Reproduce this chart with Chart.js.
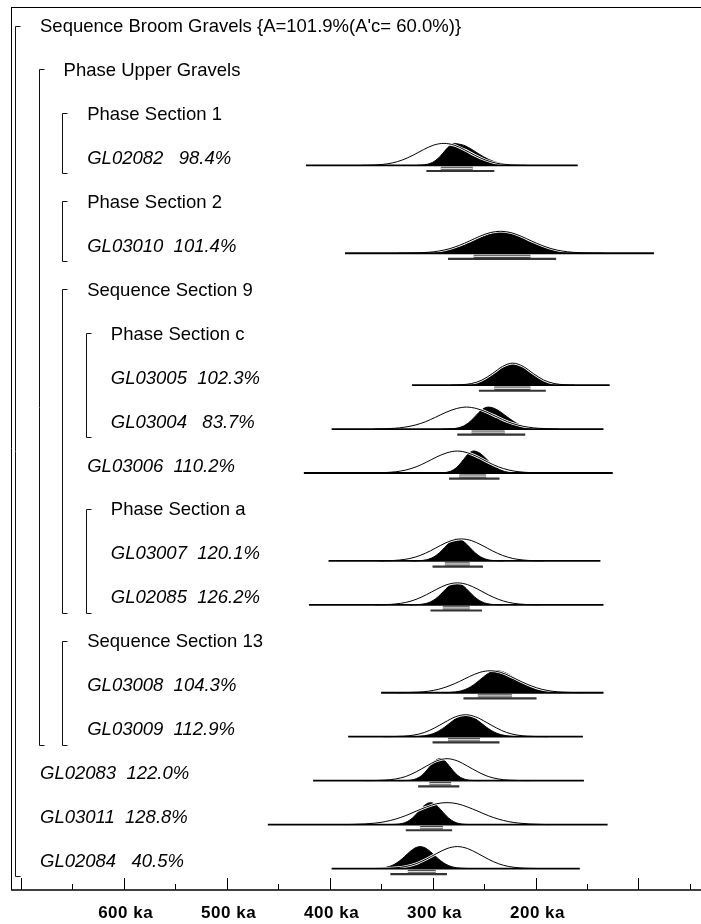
<!DOCTYPE html>
<html>
<head>
<meta charset="utf-8">
<title>Sequence Broom Gravels</title>
<script src="https://cdn.jsdelivr.net/npm/chart.js@4.4.1/dist/chart.umd.min.js"></script>
<style>
  html, body { margin: 0; padding: 0; background: #fff; }
  #wrap { width: 701px; height: 924px; position: relative; }
  canvas { display: block; }
</style>
</head>
<body>
<div id="wrap"><canvas id="plot" width="701" height="924"></canvas></div>
<script>
// ---- Model structure -------------------------------------------------------
const groupNames = [
  "Sequence Broom Gravels {A=101.9%(A'c= 60.0%)}",
  'Phase Upper Gravels',
  'Phase Section 1',
  'Phase Section 2',
  'Sequence Section 9',
  'Phase Section c',
  'Phase Section a',
  'Sequence Section 13'
];
const groupFirstRow = [0, 1, 2, 4, 6, 7, 11, 14];
const groupLastRow  = [19, 16, 3, 5, 13, 9, 13, 16];
const groupDepth    = [0, 1, 2, 2, 2, 3, 3, 2];

// ---- Samples (OSL dates, ka) ----------------------------------------------
const sampleNames = ['GL02082', 'GL03010', 'GL03005', 'GL03004', 'GL03006', 'GL03007',
                     'GL02085', 'GL03008', 'GL03009', 'GL02083', 'GL03011', 'GL02084'];
const sampleRow   = [3, 5, 8, 9, 10, 12, 13, 15, 16, 17, 18, 19];
const sampleDepth = [2, 2, 3, 3, 2, 3, 3, 2, 2, 0, 0, 0];
const agreement   = [98.4, 101.4, 102.3, 83.7, 110.2, 120.1, 126.2, 104.3, 112.9, 122.0, 128.8, 40.5];

// extent over which each distribution was computed [older, younger]
const calcRange = [[423, 159], [385, 85], [320, 128], [398, 134], [425, 125], [401, 137],
                   [420, 134], [350, 134], [382, 154], [416, 153], [460, 130], [398, 157]];
// highest posterior density ranges [older, younger]
const range68 = [[292, 261], [260, 205], [240, 205], [262, 230], [274, 248], [288, 264],
                 [290, 264], [256, 223], [285, 254], [303, 282], [312, 290], [324, 297]];
const range95 = [[306, 240], [285, 180], [255, 190], [276, 210], [284, 235], [300, 251],
                 [302, 252], [270, 199], [300, 235], [314, 274], [326, 281], [341, 286]];

// likelihoods (outline), [ka, relative probability]
const prior_GL02082 = [[369,0],[359,0.01],[349,0.04],[339,0.11],[329,0.25],[319,0.46],[309,0.71],[299,0.92],[289,1],[279,0.92],[269,0.71],[259,0.46],[249,0.25],[239,0.11],[229,0.04],[219,0.01],[209,0]];
const prior_GL03010 = [[334,0],[324,0.006],[314,0.017],[304,0.044],[294,0.10],[284,0.20],[274,0.36],[264,0.56],[254,0.775],[244,0.94],[234,1],[224,0.94],[214,0.775],[204,0.56],[194,0.36],[184,0.20],[174,0.10],[164,0.044],[154,0.017],[144,0.006],[134,0]];
const prior_GL03005 = [[282,0],[272,0.017],[262,0.073],[252,0.23],[242,0.52],[232,0.85],[222,1],[212,0.85],[202,0.52],[192,0.23],[182,0.073],[172,0.017],[162,0]];
const prior_GL03004 = [[357,0],[347,0.01],[337,0.035],[327,0.085],[317,0.18],[307,0.33],[297,0.54],[287,0.76],[277,0.93],[267,1],[257,0.93],[247,0.76],[237,0.54],[227,0.33],[217,0.18],[207,0.085],[197,0.035],[187,0.01],[177,0]];
const prior_GL03006 = [[356,0],[346,0.02],[336,0.056],[326,0.135],[316,0.28],[306,0.49],[296,0.73],[286,0.92],[276,1],[266,0.92],[256,0.73],[246,0.49],[236,0.28],[226,0.135],[216,0.056],[206,0.02],[196,0]];
const prior_GL03007 = [[352,0],[342,0.01],[332,0.04],[322,0.11],[312,0.25],[302,0.46],[292,0.71],[282,0.92],[272,1],[262,0.92],[252,0.71],[242,0.46],[232,0.25],[222,0.11],[212,0.04],[202,0.01],[192,0]];
const prior_GL02085 = [[356,0],[346,0.01],[336,0.04],[326,0.11],[316,0.25],[306,0.46],[296,0.71],[286,0.92],[276,1],[266,0.92],[256,0.71],[246,0.46],[236,0.25],[226,0.11],[216,0.04],[206,0.01],[196,0]];
const prior_GL03008 = [[334,0],[324,0.01],[314,0.027],[304,0.07],[294,0.16],[284,0.31],[274,0.51],[264,0.74],[254,0.93],[244,1],[234,0.93],[224,0.74],[214,0.51],[204,0.31],[194,0.16],[184,0.07],[174,0.027],[164,0.01],[154,0]];
const prior_GL03009 = [[348,0],[338,0.006],[328,0.024],[318,0.076],[308,0.19],[298,0.40],[288,0.66],[278,0.90],[268,1],[258,0.90],[248,0.66],[238,0.40],[228,0.19],[218,0.076],[208,0.024],[198,0.006],[188,0]];
const prior_GL02083 = [[366,0],[356,0.006],[346,0.024],[336,0.076],[326,0.19],[316,0.40],[306,0.66],[296,0.90],[286,1],[276,0.90],[266,0.66],[256,0.40],[246,0.19],[236,0.076],[226,0.024],[216,0.006],[206,0]];
const prior_GL03011 = [[386,0],[376,0.011],[366,0.03],[356,0.066],[346,0.135],[336,0.25],[326,0.41],[316,0.61],[306,0.80],[296,0.95],[286,1],[276,0.95],[266,0.80],[256,0.61],[246,0.41],[236,0.25],[226,0.135],[216,0.066],[206,0.03],[196,0.011],[186,0]];
const prior_GL02084 = [[356,0],[346,0.01],[336,0.033],[326,0.094],[316,0.22],[306,0.43],[296,0.685],[286,0.91],[276,1],[266,0.91],[256,0.685],[246,0.43],[236,0.22],[226,0.094],[216,0.033],[206,0.01],[196,0]];

// modelled posteriors (filled), [ka, relative probability]
const post_GL02082 = [[315,0],[310,0.015],[305,0.05],[300,0.135],[295,0.3],[290,0.55],[285,0.82],[280,0.98],[278,1],[275,0.97],[270,0.92],[265,0.81],[260,0.67],[255,0.52],[250,0.375],[245,0.26],[240,0.165],[235,0.1],[230,0.056],[225,0.03],[220,0.015],[215,0]];
const post_GL03010 = [[323,0],[313,0.01],[303,0.029],[293,0.073],[283,0.16],[273,0.30],[263,0.50],[253,0.71],[243,0.88],[233,0.95],[223,0.88],[213,0.71],[203,0.50],[193,0.30],[183,0.16],[173,0.073],[163,0.029],[153,0.01],[143,0]];
const post_GL03005 = [[282,0],[277,0.005],[272,0.013],[267,0.03],[262,0.063],[257,0.12],[252,0.21],[247,0.34],[242,0.50],[237,0.68],[232,0.84],[227,0.96],[222,1],[217,0.96],[212,0.84],[207,0.68],[202,0.50],[197,0.34],[192,0.21],[187,0.12],[182,0.063],[177,0.03],[172,0.013],[167,0.005],[162,0]];
const post_GL03004 = [[290,0],[285,0.005],[280,0.018],[275,0.054],[270,0.135],[265,0.286],[260,0.506],[255,0.755],[250,0.946],[246,1],[240,0.94],[235,0.81],[230,0.642],[225,0.466],[220,0.31],[215,0.19],[210,0.106],[205,0.055],[200,0.026],[195,0.011],[190,0.004],[185,0]];
const post_GL03006 = [[295,0],[290,0.011],[285,0.044],[280,0.135],[275,0.325],[270,0.607],[265,0.882],[260,1],[255,0.929],[250,0.744],[245,0.514],[240,0.306],[235,0.157],[230,0.07],[225,0.027],[220,0.009],[215,0]];
const post_GL03007 = [[321,0],[316,0.005],[311,0.017],[306,0.051],[301,0.127],[296,0.267],[291,0.476],[286,0.719],[281,0.921],[276,1],[271,0.921],[266,0.719],[261,0.476],[256,0.267],[251,0.127],[246,0.051],[241,0.017],[236,0.005],[231,0]];
const post_GL02085 = [[322,0],[317,0.006],[312,0.019],[307,0.056],[302,0.135],[297,0.278],[292,0.487],[287,0.726],[282,0.923],[277,1],[272,0.923],[267,0.726],[262,0.487],[257,0.278],[252,0.135],[247,0.056],[242,0.019],[237,0.006],[232,0]];
const post_GL03008 = [[288,0],[283,0.015],[278,0.036],[273,0.078],[268,0.154],[263,0.272],[258,0.435],[253,0.626],[248,0.812],[243,0.949],[238,1],[233,0.969],[228,0.882],[223,0.755],[218,0.607],[213,0.458],[208,0.325],[203,0.216],[198,0.135],[193,0.079],[188,0.044],[183,0.023],[178,0.011],[173,0]];
const post_GL03009 = [[318,0],[313,0.018],[308,0.043],[303,0.088],[298,0.167],[293,0.286],[288,0.444],[283,0.625],[278,0.80],[273,0.92],[268,0.97],[263,0.92],[258,0.80],[253,0.625],[248,0.444],[243,0.286],[238,0.167],[233,0.088],[228,0.043],[223,0.018],[218,0]];
const post_GL02083 = [[333,0],[328,0.003],[323,0.014],[318,0.053],[313,0.152],[308,0.346],[303,0.624],[298,0.889],[293,1],[288,0.889],[283,0.624],[278,0.346],[273,0.152],[268,0.053],[263,0.014],[258,0.003],[253,0]];
const post_GL03011 = [[342,0],[337,0.008],[332,0.03],[327,0.087],[322,0.209],[317,0.414],[312,0.676],[307,0.907],[302,1],[297,0.907],[292,0.676],[287,0.414],[282,0.209],[277,0.087],[272,0.03],[267,0.008],[262,0]];
const post_GL02084 = [[357,0],[352,0.015],[347,0.04],[342,0.094],[337,0.194],[332,0.35],[327,0.554],[322,0.769],[317,0.936],[312,1],[307,0.936],[302,0.769],[297,0.554],[292,0.35],[287,0.194],[282,0.094],[277,0.04],[272,0.015],[267,0.005],[262,0]];

const priorCurves = [prior_GL02082, prior_GL03010, prior_GL03005, prior_GL03004, prior_GL03006, prior_GL03007,
                     prior_GL02085, prior_GL03008, prior_GL03009, prior_GL02083, prior_GL03011, prior_GL02084];
const postCurves  = [post_GL02082, post_GL03010, post_GL03005, post_GL03004, post_GL03006, post_GL03007,
                     post_GL02085, post_GL03008, post_GL03009, post_GL02083, post_GL03011, post_GL02084];

// ---- Axis ------------------------------------------------------------------
const axisMajorKa = [700, 600, 500, 400, 300, 200, 100];
const axisMinorKa = [650, 550, 450, 350, 250, 150, 50];
const axisLabelKa = [600, 500, 400, 300, 200];

// ---- Drawing ---------------------------------------------------------------
const ROW_COUNT = 20;
const BASE_OFF = 0.182;   // distribution baseline sits a little below the row centre (row units)
const PEAK = 0.5;         // height of a normalised distribution (row units)
const BAR68_OFF = 0.07;   // 68.2% range bar below the baseline
const BAR95_OFF = 0.128;  // 95.4% range bar below the baseline

const TEXT_FONT = '"Liberation Sans", Arial, Helvetica, sans-serif';

function toPoints(curve, row) {
  return curve.map(([ka, p]) => ({ x: ka, y: row + BASE_OFF - PEAK * p }));
}
function hLine(span, yv) {
  return [{ x: span[0], y: yv }, { x: span[1], y: yv }];
}

const datasets = [];
sampleNames.forEach((name, i) => {
  const row = sampleRow[i];
  const base = row + BASE_OFF;
  const common = { pointRadius: 0, pointHoverRadius: 0, fill: false, spanGaps: true };
  datasets.push({ ...common, label: name + ' posterior', data: toPoints(postCurves[i], row),
    borderColor: '#000', backgroundColor: '#000', borderWidth: 1, fill: { value: base },
    cubicInterpolationMode: 'monotone', order: 7 });
  datasets.push({ ...common, label: name + ' likelihood halo', data: toPoints(priorCurves[i], row),
    borderColor: '#fff', borderWidth: 2.6, cubicInterpolationMode: 'monotone', order: 6 });
  datasets.push({ ...common, label: name + ' range', data: hLine(calcRange[i], base),
    borderColor: '#000', borderWidth: 1.8, order: 5 });
  datasets.push({ ...common, label: name + ' likelihood', data: toPoints(priorCurves[i], row),
    borderColor: '#000', borderWidth: 1, cubicInterpolationMode: 'monotone', order: 4 });
  datasets.push({ ...common, label: name + ' 95.4%', data: hLine(range95[i], base + BAR95_OFF),
    borderColor: '#333', borderWidth: 2.2, borderCapStyle: 'butt', order: 3 });
  datasets.push({ ...common, label: name + ' 68.2% edge', data: hLine(range68[i], base + BAR68_OFF),
    borderColor: '#444', borderWidth: 3.4, borderCapStyle: 'butt', order: 2 });
  datasets.push({ ...common, label: name + ' 68.2%', data: hLine(range68[i], base + BAR68_OFF),
    borderColor: '#dcdcdc', borderWidth: 1.4, borderCapStyle: 'butt', order: 1 });
});

const modelTree = {
  id: 'modelTree',
  afterDatasetsDraw(chart) {
    const { ctx, chartArea: a, scales: { x, y } } = chart;
    ctx.save();
    ctx.strokeStyle = '#000';
    ctx.fillStyle = '#000';

    // frame
    ctx.lineWidth = 1;
    ctx.beginPath();
    ctx.moveTo(a.left, a.top + 0.5); ctx.lineTo(a.right, a.top + 0.5);
    ctx.moveTo(a.left + 0.5, a.top); ctx.lineTo(a.left + 0.5, a.bottom);
    ctx.stroke();

    // time axis
    ctx.lineWidth = 1.5;
    ctx.beginPath();
    ctx.moveTo(a.left, a.bottom); ctx.lineTo(a.right, a.bottom);
    ctx.stroke();
    ctx.lineWidth = 1;
    ctx.beginPath();
    axisMajorKa.forEach(ka => {
      const px = Math.round(x.getPixelForValue(ka)) + 0.5;
      ctx.moveTo(px, a.bottom); ctx.lineTo(px, a.bottom - 12);
    });
    axisMinorKa.forEach(ka => {
      const px = Math.round(x.getPixelForValue(ka)) + 0.5;
      ctx.moveTo(px, a.bottom); ctx.lineTo(px, a.bottom - 6);
    });
    ctx.stroke();

    ctx.font = 'bold 17px ' + TEXT_FONT;
    if ('letterSpacing' in ctx) ctx.letterSpacing = '0.5px';
    ctx.textAlign = 'center';
    ctx.textBaseline = 'alphabetic';
    axisLabelKa.forEach(ka => {
      ctx.fillText(ka + ' ka', x.getPixelForValue(ka) + 2, a.bottom + 28);
    });
    if ('letterSpacing' in ctx) ctx.letterSpacing = '0px';

    // brackets for sequences and phases
    const bracketX = d => Math.round(a.left + 4 + 23.7 * d) + 0.5;
    ctx.lineWidth = 1;
    ctx.strokeStyle = '#111';
    groupNames.forEach((g, k) => {
      const bx = bracketX(groupDepth[k]);
      const top = Math.round(y.getPixelForValue(groupFirstRow[k])) + 0.5;
      const bottom = Math.round(y.getPixelForValue(groupLastRow[k]) + (groupDepth[k] === 0 ? 15 : 16)) + 0.5;
      ctx.beginPath();
      ctx.moveTo(bx + 5, top); ctx.lineTo(bx, top);
      ctx.lineTo(bx, bottom); ctx.lineTo(bx + 5, bottom);
      ctx.stroke();
    });

    // row labels
    const textX = d => a.left + 29 + 23.6 * d;
    ctx.textAlign = 'left';
    ctx.font = '18.5px ' + TEXT_FONT;
    groupNames.forEach((g, k) => {
      ctx.fillText(g, textX(groupDepth[k]), y.getPixelForValue(groupFirstRow[k]) + 6.5);
    });
    ctx.font = 'italic 18.5px ' + TEXT_FONT;
    sampleNames.forEach((name, i) => {
      const txt = name + '  ' + agreement[i].toFixed(1).padStart(5, ' ') + '%';
      ctx.fillText(txt, textX(sampleDepth[i]), y.getPixelForValue(sampleRow[i]) + 6.5);
    });

    ctx.restore();
  }
};

new Chart(document.getElementById('plot'), {
  type: 'line',
  data: { datasets },
  options: {
    responsive: false,
    animation: false,
    devicePixelRatio: 1,
    events: [],
    layout: { padding: { left: 11, right: 0, top: 7, bottom: 34 } },
    elements: { line: { borderJoinStyle: 'round' } },
    scales: {
      x: { type: 'linear', reverse: true, min: 39.3, max: 709.4, display: false },
      y: { type: 'linear', reverse: true, min: -0.421, max: -0.421 + 883 / 43.95, display: false }
    },
    plugins: { legend: { display: false }, tooltip: { enabled: false } }
  },
  plugins: [modelTree]
});
</script>
</body>
</html>
